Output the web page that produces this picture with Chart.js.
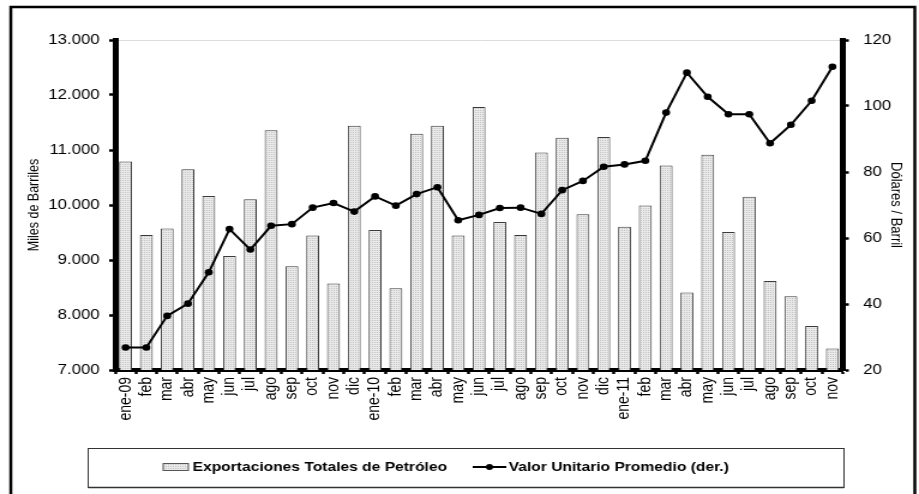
<!DOCTYPE html>
<html>
<head>
<meta charset="utf-8">
<script src="https://cdn.jsdelivr.net/npm/chart.js@4/dist/chart.umd.min.js"></script>
<style>
   html, body { margin: 0; padding: 0; background: #fff; }
   /* the reference is an Excel chart stretched sideways, so draw narrow and widen with CSS */
   #chart { display: block; width: 919px !important; height: 494px !important; }
</style>
</head>
<body>
<canvas id="chart" width="766" height="494"></canvas>
<script>
const categories = ['ene-09', 'feb', 'mar', 'abr', 'may', 'jun', 'jul', 'ago', 'sep', 'oct', 'nov', 'dic',
   'ene-10', 'feb', 'mar', 'abr', 'may', 'jun', 'jul', 'ago', 'sep', 'oct', 'nov', 'dic',
   'ene-11', 'feb', 'mar', 'abr', 'may', 'jun', 'jul', 'ago', 'sep', 'oct', 'nov'];

// Exportaciones Totales de Petróleo (miles de barriles)
const exportaciones = [10790, 9455, 9575, 10650, 10165, 9075, 10105, 11360, 8885, 9445, 8575, 11440,
   9545, 8485, 11295, 11440, 9445, 11780, 9690, 9455, 10955, 11225, 9830, 11235,
   9605, 9990, 10720, 8410, 10915, 9510, 10150, 8620, 8340, 7800, 7390];

// Valor Unitario Promedio (US$ / barril)
const valorUnitario = [26.8, 26.8, 36.4, 40.1, 49.6, 62.7, 56.5, 63.7, 64.2, 69.2, 70.6, 68.0,
   72.6, 69.8, 73.3, 75.4, 65.4, 67.0, 69.1, 69.2, 67.3, 74.5, 77.3, 81.6,
   82.3, 83.4, 98.0, 110.1, 102.8, 97.5, 97.5, 88.7, 94.3, 101.6, 111.9];

const leftTicks = [7000, 8000, 9000, 10000, 11000, 12000, 13000];
const rightTicks = [20, 40, 60, 80, 100, 120];

const FONT = "'Liberation Sans', Arial, sans-serif";

function formatMiles(v) {
   return v.toString().replace(/\B(?=(\d{3})+(?!\d))/g, '.');
}

// dotted light grey fill like the Excel pattern
function makePattern() {
   const p = document.createElement('canvas');
   p.width = 2;
   p.height = 2;
   const c = p.getContext('2d');
   c.fillStyle = '#e9e9e9';
   c.fillRect(0, 0, 2, 2);
   c.fillStyle = '#c4c4c4';
   c.fillRect(0, 0, 1, 1);
   return c.createPattern(p, 'repeat');
}

const barFill = makePattern();

// outer frame and boxed legend
const framePlugin = {
   id: 'frame',
   afterDraw(chart) {
      const ctx = chart.ctx;
      ctx.save();
      ctx.strokeStyle = '#000';
      ctx.lineWidth = 2.5;
      ctx.strokeRect(9, 7, 753.5, 500);

      // legend box
      ctx.fillStyle = '#fff';
      ctx.fillRect(73.5, 448.5, 630, 39);
      ctx.strokeStyle = '#9a9a9a';
      ctx.lineWidth = 2;
      ctx.beginPath();
      ctx.moveTo(73.5, 487.5);
      ctx.lineTo(703.5, 487.5);
      ctx.stroke();
      ctx.strokeStyle = '#333';
      ctx.lineWidth = 1;
      ctx.strokeRect(73.5, 448.5, 630, 39);

      const ds = chart.data.datasets;
      const y = 467;
      ctx.font = 'bold 13px ' + FONT;
      ctx.textBaseline = 'middle';
      ctx.textAlign = 'left';

      // bar swatch
      ctx.fillStyle = barFill;
      ctx.fillRect(136, 463.5, 21, 7);
      ctx.strokeStyle = '#555';
      ctx.strokeRect(136, 463.5, 21, 7);
      ctx.fillStyle = '#000';
      ctx.fillText(ds[1].label, 160.5, y);

      // line swatch
      ctx.strokeStyle = '#000';
      ctx.lineWidth = 2;
      ctx.beginPath();
      ctx.moveTo(394, y);
      ctx.lineTo(422, y);
      ctx.stroke();
      ctx.beginPath();
      ctx.arc(408, y, 3, 0, Math.PI * 2);
      ctx.fill();
      ctx.fillText(ds[0].label, 424, y);
      ctx.restore();
   }
};

new Chart(document.getElementById('chart'), {
   type: 'bar',
   data: {
      labels: categories,
      datasets: [{
         type: 'line',
         label: 'Valor Unitario Promedio (der.)',
         data: valorUnitario,
         yAxisID: 'y1',
         order: 0,
         borderColor: '#000',
         backgroundColor: '#000',
         borderWidth: 2,
         pointRadius: 3.3,
         pointBackgroundColor: '#000',
         pointBorderWidth: 0,
         tension: 0
      }, {
         type: 'bar',
         label: 'Exportaciones Totales de Petróleo',
         data: exportaciones,
         yAxisID: 'y',
         order: 1,
         backgroundColor: barFill,
         borderColor: '#3a3a3a',
         borderWidth: 1,
         barPercentage: 0.62,
         categoryPercentage: 1
      }]
   },
   options: {
      responsive: false,
      animation: false,
      layout: {
         padding: { top: 40, left: 15, right: 9, bottom: 64 }
      },
      plugins: {
         legend: { display: false },
         tooltip: { enabled: false }
      },
      scales: {
         x: {
            offset: true,
            border: { display: true, color: '#000', width: 4 },
            grid: {
               offset: true,
               drawOnChartArea: false,
               drawTicks: true,
               tickLength: 4,
               tickWidth: 2.5,
               tickColor: '#000'
            },
            ticks: {
               color: '#000',
               font: { family: FONT, size: 14 },
               minRotation: 90,
               maxRotation: 90,
               autoSkip: false,
               padding: 3
            },
            afterFit(axis) { axis.height = 60; }
         },
         y: {
            position: 'left',
            min: 7000,
            max: 13000,
            afterBuildTicks(axis) { axis.ticks = leftTicks.map(v => ({ value: v })); },
            border: { display: true, color: '#000', width: 5 },
            grid: {
               drawTicks: true,
               tickLength: 5,
               tickWidth: 2.5,
               tickColor: '#000',
               lineWidth: 1,
               color: ctx => (ctx.tick && ctx.tick.value === 13000) ? '#dcdcdc' : 'rgba(0,0,0,0)'
            },
            ticks: {
               color: '#000',
               font: { family: FONT, size: 14 },
               padding: 8,
               callback: v => formatMiles(v)
            },
            title: {
               display: true,
               text: 'Miles de Barriles',
               color: '#000',
               font: { family: FONT, size: 12.5 },
               padding: { top: 6, bottom: 0 }
            },
            afterFit(axis) { axis.width = 81; }
         },
         y1: {
            position: 'right',
            min: 20,
            max: 120,
            afterBuildTicks(axis) { axis.ticks = rightTicks.map(v => ({ value: v })); },
            border: { display: true, color: '#000', width: 5 },
            grid: {
               drawOnChartArea: false,
               drawTicks: true,
               tickLength: 5,
               tickWidth: 2.5,
               tickColor: '#000'
            },
            ticks: {
               color: '#000',
               font: { family: FONT, size: 14 },
               padding: 12
            },
            title: {
               display: true,
               text: 'Dólares / Barril',
               color: '#000',
               font: { family: FONT, size: 13 },
               padding: 3
            },
            afterFit(axis) { axis.width = 54.5; }
         }
      }
   },
   plugins: [framePlugin]
});
</script>
</body>
</html>
